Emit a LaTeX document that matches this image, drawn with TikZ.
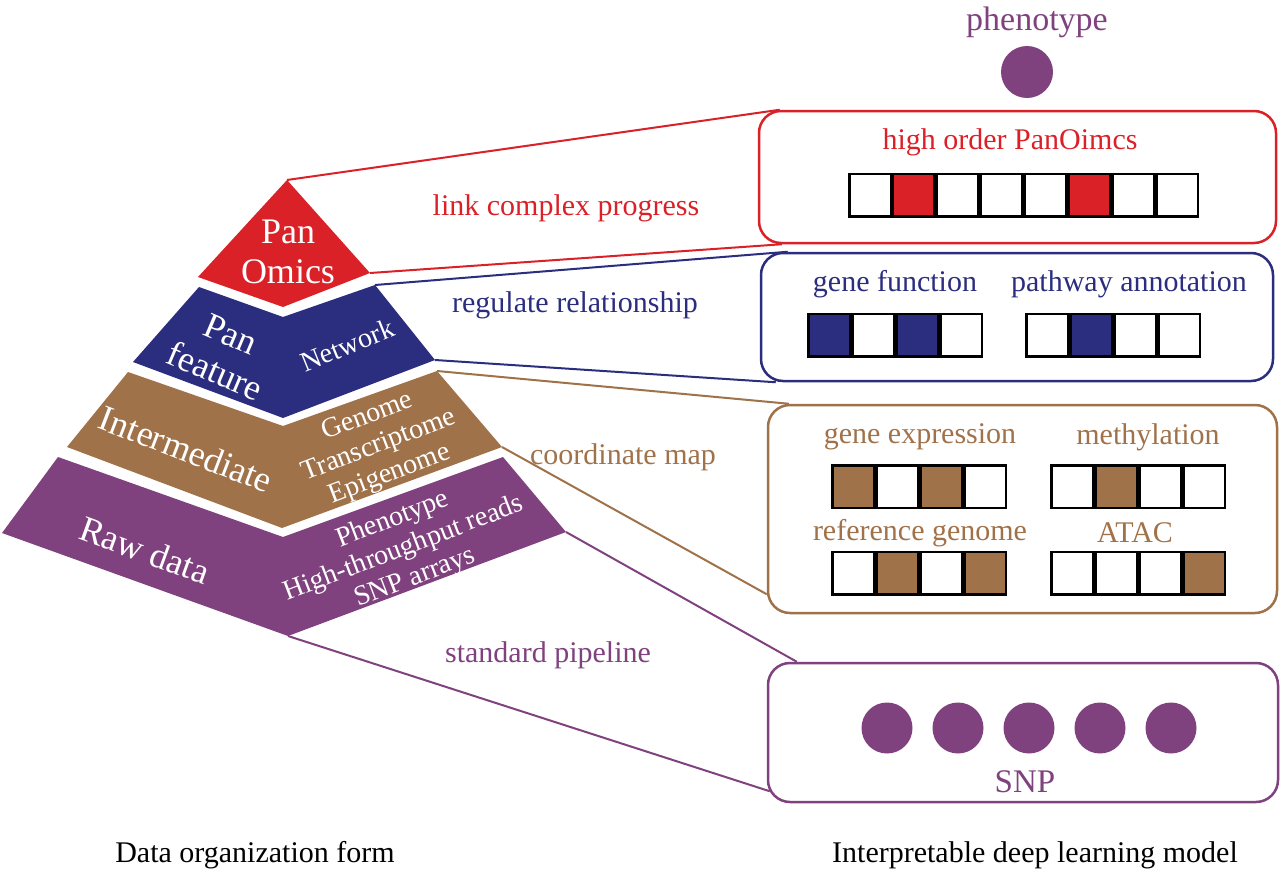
\documentclass[tikz,border=0pt]{standalone}
\usepackage{fontspec}
\setmainfont{Liberation Serif}
\usetikzlibrary{calc}
\definecolor{panred}{RGB}{218,33,40}
\definecolor{panblue}{RGB}{43,45,126}
\definecolor{panbrown}{RGB}{160,114,74}
\definecolor{panpurple}{RGB}{128,66,126}

\begin{document}
\begin{tikzpicture}[x=1pt,y=-1pt,
    layer/.style={text=white,align=center,font=\fontsize{36}{40}\selectfont},
    layersub/.style={text=white,align=center,font=\fontsize{28}{31}\selectfont},
    lbl/.style={font=\fontsize{30}{32}\selectfont},
    panbox/.style={rounded corners=22pt,line width=2.5pt,inner sep=0pt},
    cell/.style={draw=black,line width=2.5pt,minimum width=41.5pt,minimum height=42.5pt,inner sep=0pt},
    link/.style={line width=2pt},
    snpdot/.style={circle,fill=panpurple,minimum size=51pt,inner sep=0pt}]
  \useasboundingbox (0,0) rectangle (1280,873);

  % model boxes
  \node[panbox,draw=panred,minimum width=517pt,minimum height=132pt] (omicsbox) at (1017.5,177) {};
  \node[panbox,draw=panblue,minimum width=512pt,minimum height=128pt] (featbox) at (1017,317) {};
  \node[panbox,draw=panbrown,minimum width=509pt,minimum height=208pt] (interbox) at (1022.5,509) {};
  \node[panbox,draw=panpurple,minimum width=510pt,minimum height=139pt] (snpbox) at (1023,732.5) {};

  % pyramid layers
  \fill[panred] (287,180) coordinate (pot) -- (370,273) coordinate (por) -- (283,307) -- (198,277) -- cycle;
  \fill[panblue] (199,287) -- (283,317) -- (375,285) coordinate (pft) -- (435,360) coordinate (pfb) -- (283,418) -- (133,362) -- cycle;
  \fill[panbrown] (128,372) -- (283,426) -- (437,371) coordinate (imt) -- (502,447) coordinate (imb) -- (282,528) -- (67,447) -- cycle;
  \fill[panpurple] (58,457) -- (283,537) -- (503,457) -- (566,532) coordinate (rwt) -- (288,636) coordinate (rwb) -- (2,533) -- cycle;

  \node[layer] (omics) at (288,252) {Pan\\Omics};
  \node[layer,rotate=-23] (feature) at (223,353) {Pan\\feature};
  \node[layersub,rotate=22] (network) at (347,345) {Network};
  \node[layer,rotate=-21] (inter) at (186,449) {Intermediate};
  \node[layersub,rotate=21] (omlist) at (379,446) {Genome\\Transcriptome\\Epigenome};
  \node[layer,rotate=-20] (raw) at (145,550) {Raw data};
  \node[layersub,rotate=21] (rawlist) at (404,549) {Phenotype\\High-throughput reads\\SNP arrays};

  % connectors
  \draw[link,panred] (pot) -- ($(omicsbox.north west)+(22,0)$);
  \draw[link,panred] (por) -- ($(omicsbox.south west)+(24,0)$);
  \draw[link,panblue] (pft) -- ($(featbox.north west)+(28,0)$);
  \draw[link,panblue] (pfb) -- ($(featbox.south west)+(16,0)$);
  \draw[link,panbrown] (imt) -- ($(interbox.north west)+(22,0)$);
  \draw[link,panbrown] (imb) -- ($(interbox.south west)+(0,-20)$);
  \draw[link,panpurple] (rwt) -- ($(snpbox.north west)+(30,0)$);
  \draw[link,panpurple] (rwb) -- ($(snpbox.south west)+(3,-12)$);

  \node[lbl,text=panred] (linklbl) at (566,208) {link complex progress};
  \node[lbl,text=panblue] (reglbl) at (575,305) {regulate relationship};
  \node[lbl,text=panbrown] (coordlbl) at (623,457) {coordinate map};
  \node[lbl,text=panpurple] (pipelbl) at (548,655) {standard pipeline};

  % high order box
  \node[lbl,text=panred] (potitle) at (1010,142) {high order PanOimcs};
  \foreach \c [count=\i from 0] in {white,panred,white,white,white,panred,white,white}
    \node[cell,fill=\c] (po\i) at ({870+43.9*\i},195) {};

  % feature box
  \node[lbl,text=panblue] (gftitle) at (895,284) {gene function};
  \node[lbl,text=panblue] (patitle) at (1129,284) {pathway annotation};
  \foreach \c [count=\i from 0] in {panblue,white,panblue,white}
    \node[cell,fill=\c] (gf\i) at ({829+44*\i},335) {};
  \foreach \c [count=\i from 0] in {white,panblue,white,white}
    \node[cell,fill=\c] (pa\i) at ({1047+44*\i},335) {};

  % intermediate box
  \node[lbl,text=panbrown] (getitle) at (920,437) {gene expression};
  \node[lbl,text=panbrown] (metitle) at (1148,437) {methylation};
  \node[lbl,text=panbrown] (rgtitle) at (920,533) {reference genome};
  \node[lbl,text=panbrown] (attitle) at (1135,533) {ATAC};
  \foreach \c [count=\i from 0] in {panbrown,white,panbrown,white}
    \node[cell,fill=\c] (ge\i) at ({853+44*\i},486.5) {};
  \foreach \c [count=\i from 0] in {white,panbrown,white,white}
    \node[cell,fill=\c] (me\i) at ({1072+44*\i},486.5) {};
  \foreach \c [count=\i from 0] in {white,panbrown,white,panbrown}
    \node[cell,fill=\c] (rg\i) at ({853+44*\i},573) {};
  \foreach \c [count=\i from 0] in {white,white,white,panbrown}
    \node[cell,fill=\c] (at\i) at ({1072+44*\i},573) {};

  % SNP box
  \foreach \x [count=\i] in {887,958,1029,1100,1171}
    \node[snpdot] (snp\i) at (\x,728) {};
  \node[lbl,text=panpurple,font=\fontsize{33}{35}\selectfont] (snplbl) at (1025,782) {SNP};

  % phenotype
  \node[lbl,text=panpurple,font=\fontsize{34}{36}\selectfont] (phlbl) at (1037,22) {phenotype};
  \node[snpdot,minimum size=52pt] (phdot) at (1027,72) {};

  % captions
  \node[lbl] (leftcap) at (255,855) {Data organization form};
  \node[lbl] (rightcap) at (1035,855) {Interpretable deep learning model};
\end{tikzpicture}
\end{document}
